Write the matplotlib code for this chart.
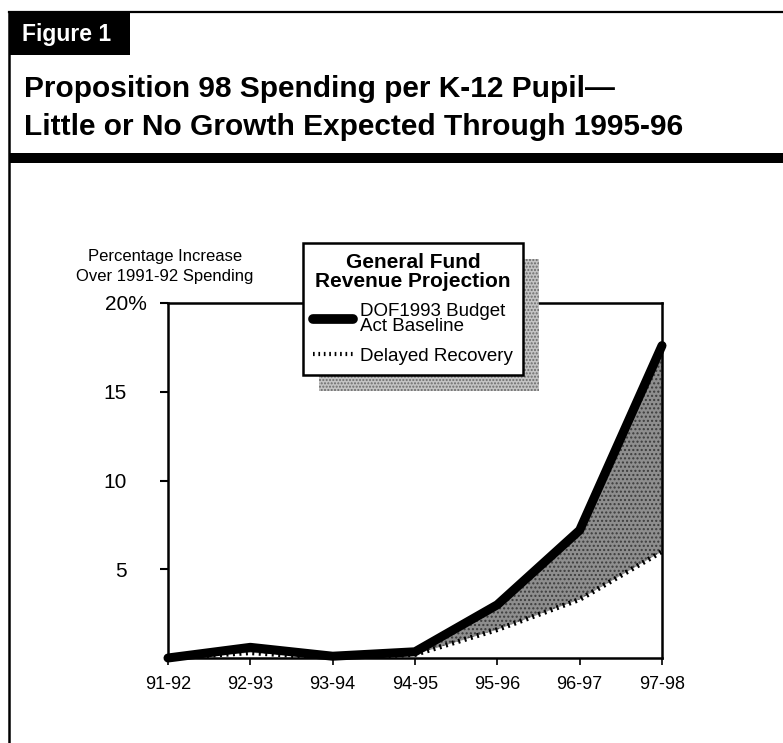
import numpy as np
import matplotlib
matplotlib.use("Agg")
import matplotlib.pyplot as plt
from matplotlib import font_manager as fm
from matplotlib.lines import Line2D
from matplotlib.patches import Rectangle
from matplotlib.transforms import ScaledTranslation

# data
years = ["91-92", "92-93", "93-94", "94-95", "95-96", "96-97", "97-98"]
baseline = [0.0, 0.6, 0.1, 0.35, 3.0, 7.2, 17.6]   # DOF 1993 Budget Act Baseline
delayed = [0.0, 0.3, 0.0, 0.2, 1.6, 3.3, 6.0]      # Delayed Recovery
yticks = [5, 10, 15, 20]
ytick_labels = ["5", "10", "15", "20%"]

plt.rcParams['font.family'] = ['Liberation Sans', 'DejaVu Sans']

# condensed face for the headline, if one is installed
names = set(f.name for f in fm.fontManager.ttflist)
if 'Liberation Sans Narrow' in names:
    head_font = dict(family=['Liberation Sans Narrow', 'DejaVu Sans'], fontsize=26)
else:
    head_font = dict(family=['Liberation Sans', 'DejaVu Sans'], fontsize=21.5)

W, H = 783, 743
fig = plt.figure(figsize=(W / 100, H / 100), dpi=100)

# chart axes
ax = fig.add_axes([168 / W, (H - 658) / H, (662 - 168) / W, (658 - 303) / H])
x = np.arange(len(years))
ax.fill_between(x, delayed, baseline, facecolor='#8e8e8e', edgecolor='#3c3c3c',
                hatch='....', linewidth=0, zorder=1)
ax.plot(x, delayed, color='black', lw=3.6, linestyle=(0, (0.4, 0.9)), zorder=2)
ax.plot(x, baseline, color='black', lw=6.5, solid_capstyle='round',
        solid_joinstyle='round', zorder=3, clip_on=False)

ax.set_xlim(0, len(years) - 1)
ax.set_ylim(0, 20)
ax.set_xticks(x)
ax.set_xticklabels(years, fontsize=13)
ax.set_yticks(yticks)
ax.set_yticklabels(ytick_labels, fontsize=15)
ax.tick_params(axis='y', direction='out', length=5.5, width=1.5, pad=24)
ax.tick_params(axis='x', direction='out', length=5, width=1.2, pad=8)
for s in ax.spines.values():
    s.set_linewidth(1.8)
# let the percent sign hang out to the right of the number column
top_lab = ax.get_yticklabels()[-1]
top_lab.set_transform(top_lab.get_transform() + ScaledTranslation(0.2, 0, fig.dpi_scale_trans))

# overlay in pixel coordinates for frame, titles and legend
ov = fig.add_axes([0, 0, 1, 1])
ov.set_xlim(0, W)
ov.set_ylim(H, 0)
ov.axis('off')
ov.patch.set_alpha(0)

ov.plot([9, W], [12, 12], color='black', lw=1.6)
ov.plot([9, 9], [12, H], color='black', lw=1.8)
ov.add_patch(Rectangle((9, 153), W - 9, 10, facecolor='black', edgecolor='none'))
ov.add_patch(Rectangle((9, 12), 121, 43, facecolor='black', edgecolor='none'))
ov.text(22, 35, "Figure 1", color='white', fontsize=16.5, fontweight='bold',
        va='center', ha='left')
ov.text(24, 97, "Proposition 98 Spending per K-12 Pupil\u2014", fontweight='bold',
        va='baseline', ha='left', **head_font)
ov.text(24, 135, "Little or No Growth Expected Through 1995-96", fontweight='bold',
        va='baseline', ha='left', **head_font)

ov.text(165, 257, "Percentage Increase", fontsize=12, ha='center', va='center')
ov.text(165, 276, "Over 1991-92 Spending", fontsize=12, ha='center', va='center')

handles = [Line2D([], [], color='black', lw=7, solid_capstyle='round'),
           Line2D([], [], color='black', lw=3, linestyle=(0, (0.4, 0.9)))]
labels = ["DOF1993 Budget\nAct Baseline", "Delayed Recovery"]
leg = ov.legend(handles, labels, loc='upper left', bbox_to_anchor=(303 / W, 1 - 243 / H),
                bbox_transform=fig.transFigure, borderaxespad=0, fontsize=13.5,
                handlelength=2.1, handletextpad=0.4, labelspacing=0.65, borderpad=0.55,
                title="General Fund\nRevenue Projection", alignment='center',
                title_fontproperties={'weight': 'bold', 'size': 15},
                fancybox=False, framealpha=1, edgecolor='black')
leg.get_frame().set_linewidth(1.8)
leg.get_title().set_multialignment('center')
leg.get_title().set_linespacing(0.95)
leg.set_zorder(10)
for t in leg.get_texts():
    t.set_linespacing(0.9)

# stippled drop shadow behind legend
fig.canvas.draw()
bb = leg.get_window_extent().transformed(ov.transData.inverted())
x0, x1 = min(bb.x0, bb.x1), max(bb.x0, bb.x1)
y0, y1 = min(bb.y0, bb.y1), max(bb.y0, bb.y1)
ov.add_patch(Rectangle((x0 + 16, y0 + 16), x1 - x0, y1 - y0, facecolor='#c4c4c4',
                       edgecolor='#6a6a6a', hatch='.....', linewidth=0, zorder=9))

fig.savefig("out.png", dpi=100)
